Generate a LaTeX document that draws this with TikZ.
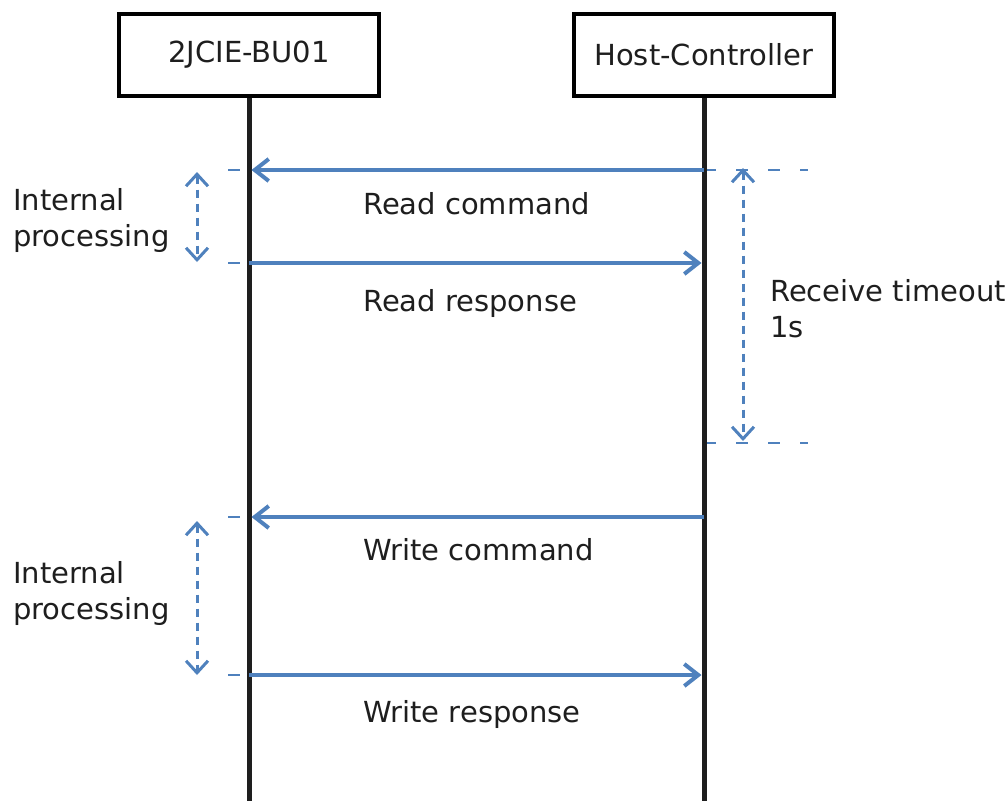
\documentclass[tikz,border=0pt]{standalone}
\usepackage{fontspec}
\setmainfont{DejaVu Sans}
\usetikzlibrary{arrows.meta}
\definecolor{msgblue}{HTML}{4F81BD}
\definecolor{ink}{HTML}{1E1E1E}
\begin{document}
\begin{tikzpicture}[x=1pt,y=-1pt,
  every node/.style={text=ink},
  actor/.style={draw=black, line width=4.5pt, minimum width=260pt, minimum height=82pt, inner sep=0pt, font=\fontsize{29}{35}\selectfont},
  lifeline/.style={draw=ink, line width=5pt},
  msg/.style={draw=msgblue, line width=4pt, shorten >=2.5pt, -{Straight Barb[length=14pt,width=22pt]}},
  span/.style={draw=msgblue, line width=3pt, dash pattern=on 8pt off 6pt, {Straight Barb[length=12pt,width=22pt]}-{Straight Barb[length=12pt,width=22pt]}},
  guide/.style={draw=msgblue, line width=2.2pt, dash pattern=on 12pt off 20pt},
  lbl/.style={inner sep=0pt, font=\fontsize{29}{36}\selectfont, align=left},
]
\useasboundingbox (0,0) rectangle (1006,801);

% actors
\node[actor] (dev) at (249,55) {2JCIE-BU01};
\node[actor] (host) at (704,55) {Host-Controller};
\coordinate (devend) at (249,801);
\coordinate (hostend) at (704,801);

% points on lifelines
\coordinate (d1) at (249,170);
\coordinate (h1) at (704,170);
\coordinate (d2) at (249,263);
\coordinate (h2) at (704,263);
\coordinate (h3) at (704,443);
\coordinate (d4) at (249,517);
\coordinate (h4) at (704,517);
\coordinate (d5) at (249,675);
\coordinate (h5) at (704,675);

% guide ticks
\coordinate (g1) at (228,170);
\coordinate (g2) at (228,263);
\coordinate (g4) at (228,517);
\coordinate (g5) at (228,675);
\coordinate (r1) at (808,170);
\coordinate (r3) at (808,443);
\draw[guide] (g1) -- (d1);
\draw[guide] (g2) -- (d2);
\draw[guide] (g4) -- (d4);
\draw[guide] (g5) -- (d5);
\draw[guide] (h1) -- (r1);
\draw[guide] (h3) -- (r3);

% lifelines
\draw[lifeline] (dev.south) -- (devend);
\draw[lifeline] (host.south) -- (hostend);

% messages
\draw[msg] (h1) -- (d1);
\draw[msg] (d2) -- (h2);
\draw[msg] (h4) -- (d4);
\draw[msg] (d5) -- (h5);

% spans
\coordinate (p1a) at (197,172);
\coordinate (p1b) at (197,262);
\coordinate (p2a) at (197,521);
\coordinate (p2b) at (197,675);
\coordinate (ta) at (743,168);
\coordinate (tb) at (743,441);
\draw[span] (p1a) -- (p1b);
\draw[span] (p2a) -- (p2b);
\draw[span] (ta) -- (tb);

% labels
\node[lbl, anchor=base west] (lrc) at (363,214) {Read command};
\node[lbl, anchor=base west] (lrr) at (363,311) {Read response};
\node[lbl, anchor=base west] (lwc) at (363,560) {Write command};
\node[lbl, anchor=base west] (lwr) at (363,722) {Write response};
\node[lbl, anchor=north west] (ip1) at (13,188) {Internal\\processing};
\node[lbl, anchor=north west] (ip2) at (13,561) {Internal\\processing};
\node[lbl, anchor=north west] (rt) at (770,279) {Receive timeout\\1s};
\end{tikzpicture}
\end{document}
